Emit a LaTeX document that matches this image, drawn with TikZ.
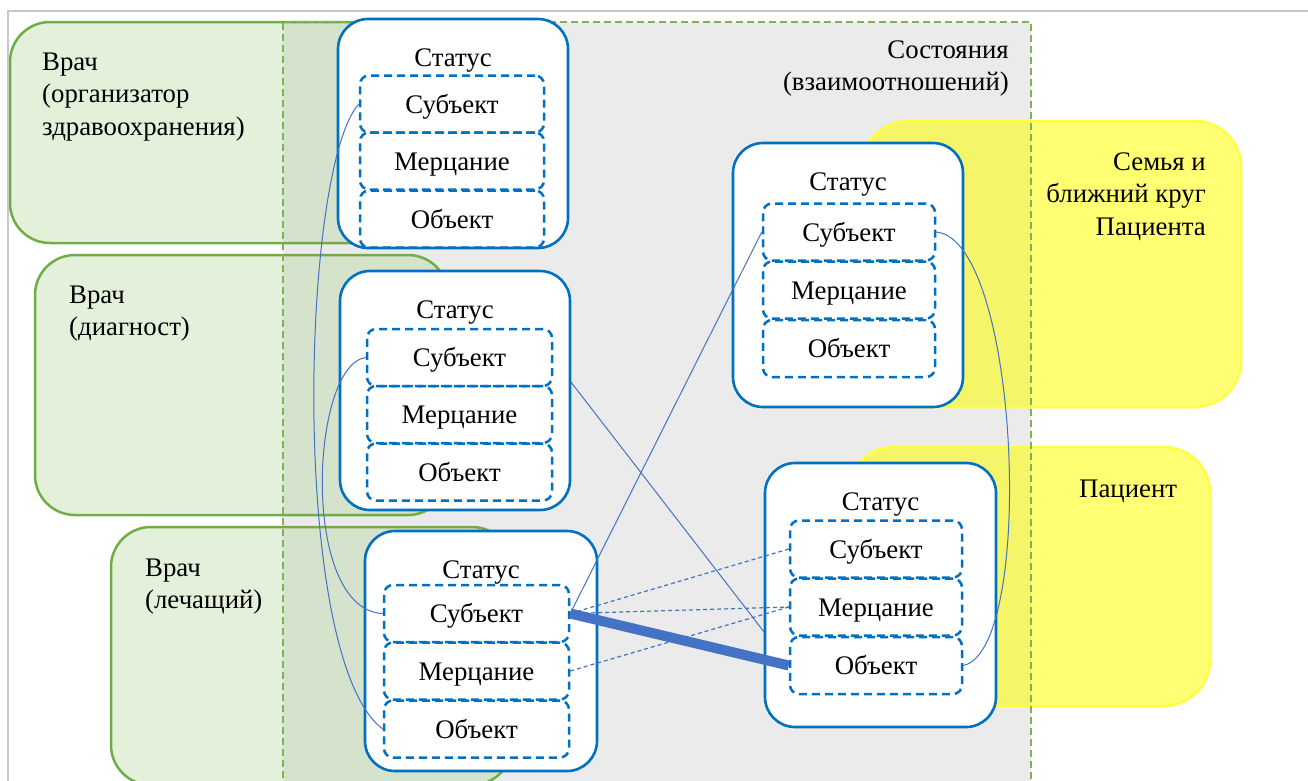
\documentclass[tikz,border=0pt]{standalone}
\usepackage{fontspec}
\setmainfont{Liberation Serif}
\definecolor{sblue}{HTML}{0070C0}
\definecolor{lblue}{HTML}{4472C4}
\definecolor{ggreen}{HTML}{70AD47}
\definecolor{gfill}{HTML}{A9D08E}
\definecolor{grayfill}{HTML}{EBEBEB}
\definecolor{dgreen}{HTML}{7EB356}
\definecolor{yfill}{HTML}{FFFF00}
\definecolor{yline}{HTML}{FFFF40}
\definecolor{framec}{HTML}{C8C8C8}
\begin{document}
\begin{tikzpicture}[x=1pt,y=-1pt,
  txt/.style={font=\fontsize{26.8}{32.5}\selectfont, inner sep=0pt},
  greenbox/.style={fill=gfill, fill opacity=0.33, draw=ggreen, line width=2.5pt, rounded corners=40pt, inner sep=0pt},
  yellowbox/.style={fill=yfill, fill opacity=0.55, draw=yline, line width=2.5pt, rounded corners=46pt, inner sep=0pt},
  statusbox/.style={fill=white, draw=sblue, line width=2.6pt, rounded corners=30pt, inner sep=0pt, minimum width=230pt},
  part/.style={draw=sblue, line width=2.5pt, dash pattern=on 8pt off 5pt, rounded corners=9pt, inner sep=0pt,
    minimum height=57pt, text height=22pt, text depth=4pt, font=\fontsize{26.8}{32.5}\selectfont},
  link/.style={draw=lblue, line width=1pt},
  dlink/.style={draw=lblue, line width=1.2pt, dash pattern=on 4pt off 3pt},
  thick link/.style={draw=lblue, line width=10pt}
]
\useasboundingbox (0,0) rectangle (1308,780);
\clip (0,0) rectangle (1308,780);

% states area
\node[fill=grayfill, inner sep=0pt, minimum width=748pt, minimum height=778pt] (state) at (657,411) {};

% green groups
\node[greenbox, minimum width=430pt, minimum height=221pt] (g1) at (225,132.5) {};
\node[greenbox, minimum width=413pt, minimum height=260pt] (g2) at (241.5,385) {};
\node[greenbox, minimum width=401pt, minimum height=258pt] (g3) at (311.5,656) {};
% yellow groups
\node[yellowbox, minimum width=379pt, minimum height=286pt] (y1) at (1051.5,264) {};
\node[yellowbox, minimum width=362pt, minimum height=259pt] (y2) at (1029,576.5) {};

% dashed border of states area
\draw[dgreen, line width=2.2pt, dash pattern=on 7pt off 4pt]
  (state.south west) -- (state.north west) -- (state.north east) -- (state.south east);

% frame
\draw[framec, line width=2pt] (8,790) -- (8,11) -- (1320,11);

% group labels
\node[txt, anchor=north west, align=left] (lg1) at (42,52.5) {Врач\\(организатор\\здравоохранения)};
\node[txt, anchor=north west, align=left] (lg2) at (69,285.5) {Врач\\(диагност)};
\node[txt, anchor=north west, align=left] (lg3) at (145,558.5) {Врач\\(лечащий)};
\node[txt, anchor=north east, align=right] (lst) at (1009,40.5) {Состояния\\(взаимоотношений)};
\node[txt, anchor=north east, align=right] (ly1) at (1206,152.5) {Семья и\\ближний круг\\Пациента};
\node[txt, anchor=base west] (ly2) at (1079,497) {Пациент};

% connector drawn behind status boxes
\coordinate (c3a) at (552,357.5);
\coordinate (c3b) at (790,665.5);
\draw[link] (c3a) -- (c3b);

% status boxes
\node[statusbox, minimum height=229pt] (s1) at (453,133.5) {};
\node[statusbox, minimum height=239pt] (s2) at (455,390.5) {};
\node[statusbox, minimum width=232pt, minimum height=240pt] (s3) at (481,651) {};
\node[statusbox, minimum height=264pt] (s4) at (848,275) {};
\node[statusbox, minimum width=231pt, minimum height=264pt] (s5) at (880.5,595) {};

\foreach \s in {s1,s2,s3,s4,s5}{
  \node[txt, anchor=base, yshift=-49pt] (\s t) at (\s.north) {Статус};
}

% parts
\node[part, minimum width=184pt] (s1a) at (452,104) {Субъект};
\node[part, minimum width=184pt] (s1b) at (452,161) {Мерцание};
\node[part, minimum width=184pt] (s1c) at (452,219) {Объект};

\node[part, minimum width=185pt] (s2a) at (459.5,357.5) {Субъект};
\node[part, minimum width=185pt] (s2b) at (459.5,414.5) {Мерцание};
\node[part, minimum width=185pt] (s2c) at (459.5,472) {Объект};

\node[part, minimum width=185pt] (s3a) at (476.5,613.5) {Субъект};
\node[part, minimum width=185pt] (s3b) at (476.5,671) {Мерцание};
\node[part, minimum width=185pt] (s3c) at (476.5,729) {Объект};

\node[part, minimum width=172pt] (s4a) at (849,232) {Субъект};
\node[part, minimum width=172pt] (s4b) at (849,290) {Мерцание};
\node[part, minimum width=172pt] (s4c) at (849,348.5) {Объект};

\node[part, minimum width=172pt] (s5a) at (876,549) {Субъект};
\node[part, minimum width=172pt] (s5b) at (876,607) {Мерцание};
\node[part, minimum width=172pt] (s5c) at (876,665.5) {Объект};

% connectors
\draw[link] (s1a.west) .. controls (300,170) and (290,660) .. (s3c.west);
\draw[link] (s2a.west) .. controls (310,365) and (300,610) .. (s3a.west);
\draw[link] (s3a.east) -- (s4a.west);
\draw[link] (s4a.east) .. controls (1020,240) and (1036,650) .. (s5c.east);
\draw[dlink] (s3a.east) -- (s5a.west);
\draw[dlink] (s3a.east) -- (s5b.west);
\draw[dlink] (s3b.east) -- (s5b.west);
\draw[thick link] (s3a.east) -- (s5c.west);
\end{tikzpicture}
\end{document}
